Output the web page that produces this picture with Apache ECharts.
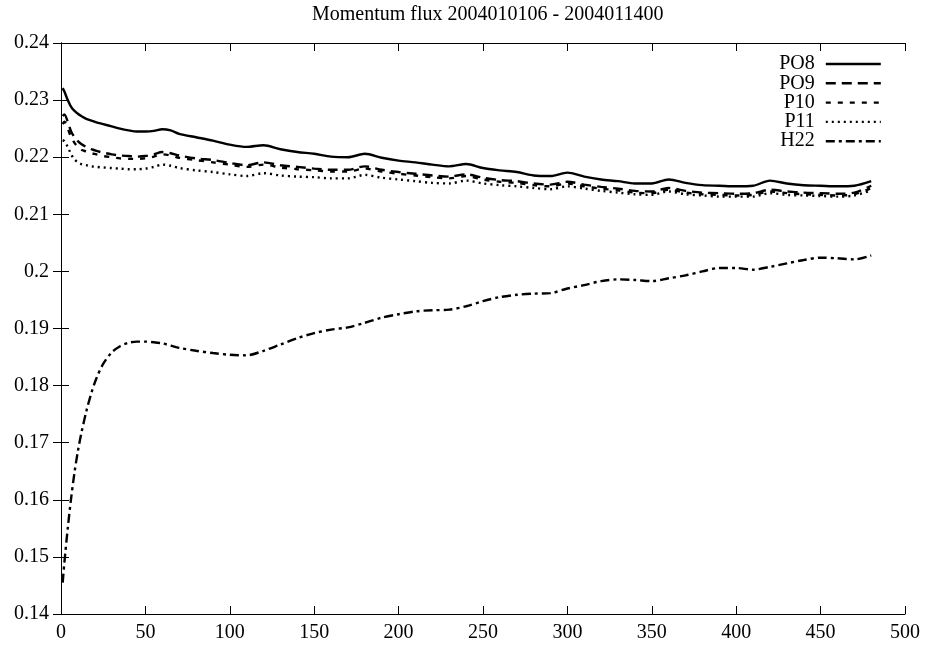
<!DOCTYPE html>
<html>
<head>
<meta charset="utf-8">
<script src="https://cdn.jsdelivr.net/npm/echarts@6/dist/echarts.min.js"></script>
<style>
  html, body { margin: 0; padding: 0; background: #fff; }
  #chart { width: 926px; height: 645px; }
</style>
</head>
<body>
<div id="chart"></div>
<script>
// x positions shared by all series
var xs = [1, 2, 4, 6, 8, 10, 12, 15, 18, 21, 25, 30, 35, 40, 45, 50, 55, 60, 65, 70,
  80, 90, 100, 110, 120, 130, 140, 150, 160, 170, 180, 190, 200, 210, 220, 230, 240,
  250, 260, 270, 280, 290, 300, 310, 320, 330, 340, 350, 360, 370, 380, 390, 400,
  410, 420, 430, 440, 450, 460, 470, 480];

var po8 = [0.2321, 0.2315, 0.2300, 0.2288, 0.2281, 0.2276, 0.2272, 0.2267, 0.2264, 0.2261,
  0.2258, 0.2254, 0.2250, 0.2247, 0.2245, 0.2245, 0.2246, 0.2249, 0.2247, 0.2241,
  0.2235, 0.2229, 0.2222, 0.2218, 0.2221, 0.2214, 0.2209, 0.2206, 0.2201, 0.2200, 0.2206,
  0.2199, 0.2194, 0.2191, 0.2187, 0.2184, 0.2188, 0.2181, 0.2177, 0.2174, 0.2168, 0.2167,
  0.2173, 0.2166, 0.2161, 0.2158, 0.2154, 0.2154, 0.2161, 0.2155, 0.2151, 0.2150, 0.2149,
  0.2150, 0.2159, 0.2154, 0.2151, 0.2150, 0.2149, 0.2150, 0.2158];

var po9 = [0.2272, 0.2275, 0.2262, 0.2245, 0.2235, 0.2228, 0.2223, 0.2218, 0.2214, 0.2211,
  0.2208, 0.2205, 0.2203, 0.2202, 0.2201, 0.2202, 0.2205, 0.2209, 0.2207, 0.2203,
  0.2198, 0.2195, 0.2190, 0.2186, 0.2191, 0.2186, 0.2183, 0.2180, 0.2178, 0.2178, 0.2184,
  0.2178, 0.2174, 0.2171, 0.2168, 0.2166, 0.2170, 0.2164, 0.2160, 0.2158, 0.2154, 0.2152,
  0.2157, 0.2152, 0.2148, 0.2145, 0.2141, 0.2140, 0.2146, 0.2141, 0.2138, 0.2137, 0.2136,
  0.2137, 0.2143, 0.2140, 0.2138, 0.2137, 0.2136, 0.2138, 0.2150];

var p10 = [0.2258, 0.2262, 0.2250, 0.2235, 0.2225, 0.2218, 0.2213, 0.2210, 0.2207, 0.2205,
  0.2202, 0.2200, 0.2198, 0.2197, 0.2197, 0.2198, 0.2201, 0.2205, 0.2203, 0.2199,
  0.2195, 0.2191, 0.2187, 0.2183, 0.2187, 0.2182, 0.2179, 0.2177, 0.2175, 0.2175, 0.2180,
  0.2175, 0.2171, 0.2168, 0.2165, 0.2163, 0.2167, 0.2161, 0.2157, 0.2155, 0.2151, 0.2149,
  0.2154, 0.2149, 0.2145, 0.2142, 0.2138, 0.2137, 0.2143, 0.2138, 0.2135, 0.2134, 0.2133,
  0.2134, 0.2140, 0.2137, 0.2135, 0.2134, 0.2133, 0.2135, 0.2146];

var p11 = [0.2230, 0.2228, 0.2218, 0.2205, 0.2196, 0.2191, 0.2188, 0.2186, 0.2184, 0.2183,
  0.2182, 0.2181, 0.2180, 0.2179, 0.2179, 0.2180, 0.2183, 0.2187, 0.2185, 0.2181,
  0.2177, 0.2174, 0.2170, 0.2167, 0.2172, 0.2168, 0.2166, 0.2165, 0.2163, 0.2163, 0.2169,
  0.2164, 0.2161, 0.2158, 0.2155, 0.2154, 0.2159, 0.2154, 0.2151, 0.2149, 0.2146, 0.2144,
  0.2149, 0.2145, 0.2141, 0.2138, 0.2135, 0.2134, 0.2140, 0.2135, 0.2133, 0.2131, 0.2131,
  0.2131, 0.2137, 0.2134, 0.2133, 0.2132, 0.2131, 0.2133, 0.2142];

var h22 = [0.1455, 0.1490, 0.1550, 0.1603, 0.1648, 0.1685, 0.1716, 0.1755, 0.1787, 0.1813,
  0.1838, 0.1858, 0.1869, 0.1875, 0.1877, 0.1877, 0.1876, 0.1874, 0.1870, 0.1866,
  0.1861, 0.1857, 0.1854, 0.1853, 0.1861, 0.1872, 0.1883, 0.1892, 0.1898, 0.1902, 0.1910,
  0.1919, 0.1925, 0.1930, 0.1932, 0.1933, 0.1939, 0.1948, 0.1955, 0.1959, 0.1961, 0.1962,
  0.1970, 0.1976, 0.1983, 0.1986, 0.1985, 0.1983, 0.1988, 0.1993, 0.2000, 0.2006, 0.2006,
  0.2003, 0.2008, 0.2014, 0.2020, 0.2024, 0.2023, 0.2021, 0.2028];

var names = ["PO8", "PO9", "P10", "P11", "H22"];
var dashes = ["solid", [10, 6], [5, 7], [2, 4], [9, 4, 3, 4]];

var font = "'Liberation Serif', 'Times New Roman', serif";

function pairs(ys) {
  return xs.map(function (x, i) { return [x, ys[i]]; });
}

var chart = echarts.init(document.getElementById("chart"));

var axisCommon = {
  type: "value",
  axisLine: { show: true, lineStyle: { color: "#000", width: 1 } },
  axisTick: { show: true, inside: true, length: 8, lineStyle: { color: "#000" } },
  splitLine: { show: false },
};

var option = {
  animation: false,
  backgroundColor: "#fff",
  title: {
    text: "Momentum flux 2004010106 - 2004011400",
    left: 307,
    top: 0,
    textStyle: { fontFamily: font, fontSize: 20, fontWeight: "normal", color: "#000" },
  },
  legend: {
    data: names,
    orient: "vertical",
    align: "right",
    right: 39,
    top: 49,
    itemWidth: 55,
    itemHeight: 14,
    itemGap: -0.7,
    lineStyle: { width: 2.4 },
    textStyle: { fontFamily: font, fontSize: 20, color: "#000", lineHeight: 18, padding: [0, 6, 0, 0] },
  },
  grid: { left: 61, right: 21, top: 43, bottom: 31 },
  xAxis: [
    Object.assign({}, axisCommon, {
      min: 0, max: 500, interval: 50, position: "bottom",
      axisLabel: { fontFamily: font, fontSize: 20, color: "#000", margin: 9 },
    }),
    Object.assign({}, axisCommon, {
      min: 0, max: 500, interval: 50, position: "top",
      axisLabel: { show: false },
    }),
  ],
  yAxis: [
    Object.assign({}, axisCommon, {
      min: 0.14, max: 0.24, interval: 0.01, position: "left",
      axisLabel: { fontFamily: font, fontSize: 20, color: "#000", margin: 12 },
    }),
    Object.assign({}, axisCommon, {
      min: 0.14, max: 0.24, interval: 0.01, position: "right",
      axisLabel: { show: false },
    }),
  ],
  series: [po8, po9, p10, p11, h22].map(function (ys, i) {
    return {
      name: names[i],
      type: "line",
      data: pairs(ys),
      xAxisIndex: 0,
      yAxisIndex: 0,
      showSymbol: false,
      symbol: "circle",
      smooth: 0.3,
      color: "#000",
      itemStyle: { color: "#000", opacity: 0 },
      lineStyle: { color: "#000", width: 2.4, type: dashes[i] },
    };
  }),
};

chart.setOption(option);
</script>
</body>
</html>
